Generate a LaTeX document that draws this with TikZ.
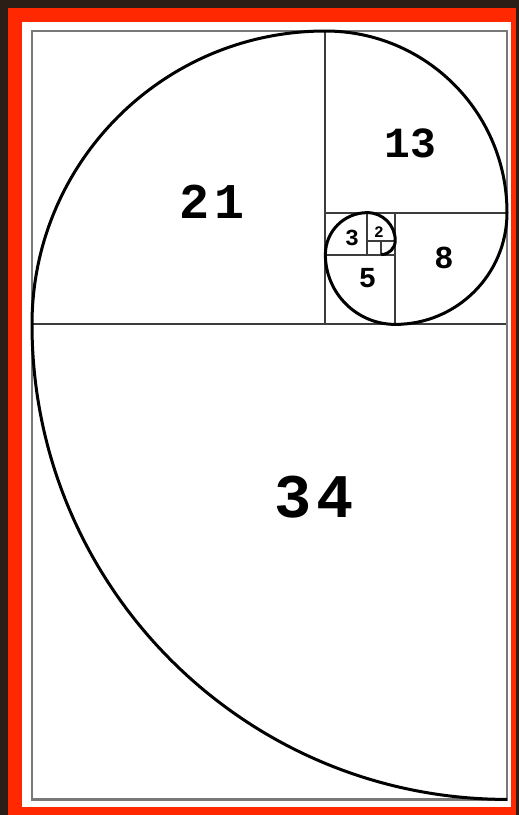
\documentclass[tikz,border=0pt]{standalone}
\usepackage{fontspec}
\newfontfamily\fibfont{Liberation Mono}
\definecolor{bgbrown}{RGB}{42,30,22}
\definecolor{framered}{RGB}{255,40,0}
\definecolor{rectgray}{RGB}{120,120,120}
\definecolor{linegray}{RGB}{60,60,60}
\tikzset{
  sqline/.style={draw=linegray, line width=2pt},
  outerrect/.style={draw=rectgray, line width=2.4pt},
  spiral/.style={draw=black, line width=3pt},
  numlabel/.style={inner sep=0pt, font=\fibfont\bfseries}
}
\begin{document}
\begin{tikzpicture}[x=1pt,y=1pt]
\useasboundingbox (0,0) rectangle (519,815);
\fill[bgbrown] (0,0) rectangle (519,815);
\fill[framered] (8,0) rectangle (516,807);
\fill[white] (22,8) rectangle (511,793);
\begin{scope}[shift={(32pt,15.6pt)}, x=13.9706pt, y=13.9706pt]
  % squares
  \draw[sqline] (0,34) -- (34,34);
  \draw[sqline] (21,34) -- (21,55);
  \draw[sqline] (21,42) -- (34,42);
  \draw[sqline] (26,34) -- (26,42);
  \draw[sqline] (21,39) -- (26,39);
  \draw[sqline] (24,39) -- (24,42);
  \draw[sqline] (24,40) -- (26,40);
  \draw[sqline] (25,39) -- (25,40);
  \draw[outerrect] (0,0) rectangle (34,55);
  % spiral
  \draw[spiral] (34,0)
    arc[start angle=270, end angle=180, radius=34]
    arc[start angle=180, end angle=90, radius=21]
    arc[start angle=90, end angle=0, radius=13]
    arc[start angle=0, end angle=-90, radius=8]
    arc[start angle=270, end angle=180, radius=5]
    arc[start angle=180, end angle=90, radius=3]
    arc[start angle=90, end angle=0, radius=2]
    arc[start angle=0, end angle=-90, radius=1];
  % labels
  \node[numlabel, font=\fibfont\bfseries\fontsize{50}{50}\selectfont] (l21) at (12.88,42.76) {2\kern5pt1};
  \node[numlabel, font=\fibfont\bfseries\fontsize{62}{62}\selectfont] (l34) at (20.19,21.65) {3\kern4pt4};
  \node[numlabel, font=\fibfont\bfseries\fontsize{43}{43}\selectfont] (l13) at (27.06,46.98) {13};
  \node[numlabel, font=\fibfont\bfseries\fontsize{32}{32}\selectfont] (l8) at (29.49,38.75) {8};
  \node[numlabel, font=\fibfont\bfseries\fontsize{29}{29}\selectfont] (l5) at (24.02,37.32) {5};
  \node[numlabel, font=\fibfont\bfseries\fontsize{23}{23}\selectfont] (l3) at (22.91,40.17) {3};
  \node[numlabel, font=\fibfont\bfseries\fontsize{16}{16}\selectfont] (l2) at (24.84,40.6) {2};
\end{scope}
\end{tikzpicture}
\end{document}
